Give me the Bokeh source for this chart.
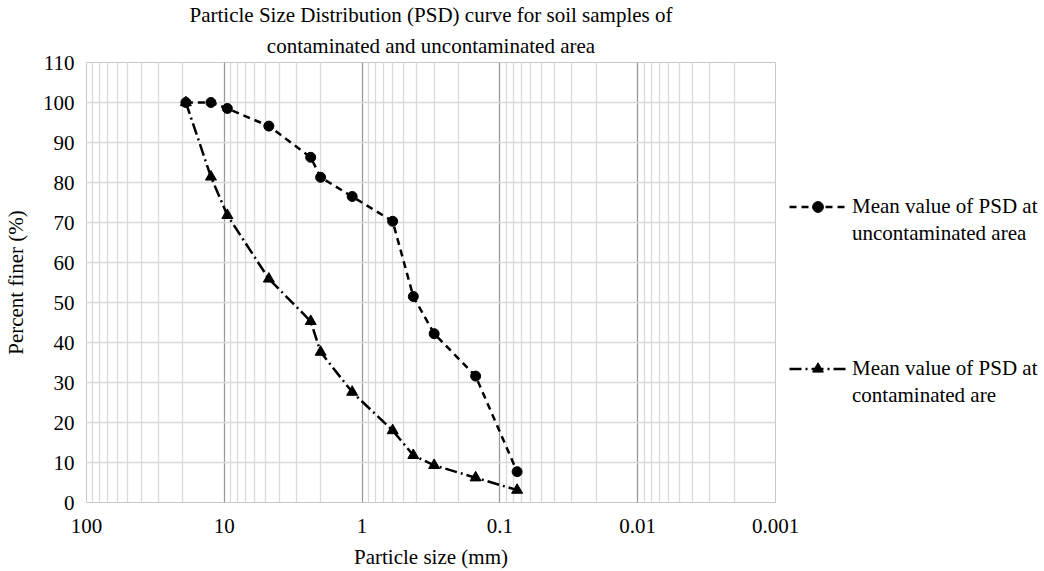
from bokeh.plotting import figure
from bokeh.models import (Range1d, FixedTicker, CustomJSTickFormatter, Legend, LegendItem, Title)
from bokeh.embed import file_html
from bokeh.resources import INLINE

# Data
sizes_mm = [19.0, 12.5, 9.5, 4.75, 2.36, 2.0, 1.18, 0.6, 0.425, 0.3, 0.15, 0.075]
uncontaminated = [100.0, 100.0, 98.5, 94.1, 86.3, 81.3, 76.5, 70.3, 51.5, 42.2, 31.6, 7.7]
contaminated = [100.0, 81.4, 71.8, 55.9, 45.3, 37.6, 27.6, 18.0, 11.8, 9.3, 6.2, 3.1]
x_major_ticks = [100, 10, 1, 0.1, 0.01, 0.001]
y_ticks = [0, 10, 20, 30, 40, 50, 60, 70, 80, 90, 100, 110]
label_unc = ["Mean value of PSD at", "uncontaminated area"]
label_con = ["Mean value of PSD at", "contaminated are"]

FONT = "Liberation Serif"
FS = "21px"

minor = []
for d in [0.001, 0.01, 0.1, 1, 10]:
    for k in range(2, 10):
        minor.append(round(k * d, 6))

p = figure(x_axis_type="log", x_range=Range1d(100, 0.001), y_range=Range1d(0, 110),
           frame_width=689, frame_height=440, title=None,
           output_backend="svg", toolbar_location=None,
           min_border_left=79, min_border_top=55, min_border_bottom=0, min_border_right=0)

p.add_layout(Title(text="contaminated and uncontaminated area", align="center",
                   text_font=FONT, text_font_size=FS, text_font_style="normal",
                   text_color="#000000", standoff=10, text_line_height=1.0), "above")
p.add_layout(Title(text="Particle Size Distribution (PSD) curve for soil samples of", align="center",
                   text_font=FONT, text_font_size=FS, text_font_style="normal",
                   text_color="#000000", standoff=0, text_line_height=1.0), "above")

xt = FixedTicker(ticks=x_major_ticks, minor_ticks=minor)
p.xaxis.ticker = xt
p.xgrid.ticker = xt
p.xaxis.formatter = CustomJSTickFormatter(
    code="return tick >= 1 ? Math.round(tick).toString() : Number(tick.toPrecision(1)).toString();")
yt = FixedTicker(ticks=y_ticks)
p.yaxis.ticker = yt
p.ygrid.ticker = yt

p.xgrid.grid_line_color = "#999999"
p.xgrid.minor_grid_line_color = "#d9d9d9"
p.ygrid.grid_line_color = "#d9d9d9"
p.xgrid.grid_line_width = 1.3
p.xgrid.minor_grid_line_width = 1.3
p.ygrid.grid_line_width = 1.3
p.outline_line_color = "#c8c8c8"

for ax in (p.xaxis[0], p.yaxis[0]):
    ax.axis_line_color = None
    ax.major_tick_line_color = None
    ax.minor_tick_line_color = None
    ax.major_label_text_font = FONT
    ax.major_label_text_font_size = FS
    ax.major_label_text_color = "#000000"
    ax.axis_label_text_font = FONT
    ax.axis_label_text_font_size = FS
    ax.axis_label_text_font_style = "normal"
    ax.axis_label_text_color = "#000000"

p.xaxis.axis_label = "Particle size (mm)"
p.yaxis.axis_label = "Percent finer (%)"
p.xaxis.major_label_standoff = 10
p.xaxis.axis_label_standoff = 9
p.yaxis.major_label_standoff = 6
p.yaxis.axis_label_standoff = 12

l1 = p.line(sizes_mm, uncontaminated, line_color="black", line_width=2.5, line_dash="7 5")
s1 = p.scatter(sizes_mm, uncontaminated, marker="circle", size=10, fill_color="black", line_color="black")
l2 = p.line(sizes_mm, contaminated, line_color="black", line_width=2.5, line_dash="12 4 2 4")
s2 = p.scatter(sizes_mm, contaminated, marker="triangle", size=11, fill_color="black", line_color="black")

# invisible renderer used for legend rows that only carry text
blank = p.line(x=[], y=[], line_alpha=0)

items = [LegendItem(label=label_unc[0], renderers=[l1, s1]),
         LegendItem(label=label_unc[1], renderers=[blank])]
for _ in range(4):
    items.append(LegendItem(label=" ", renderers=[blank]))
items += [LegendItem(label=label_con[0], renderers=[l2, s2]),
          LegendItem(label=label_con[1], renderers=[blank])]

legend = Legend(items=items, location=(14, 93), glyph_width=57, glyph_height=27,
                label_height=27, spacing=0,
                label_text_font=FONT, label_text_font_size=FS, label_text_color="#000000",
                border_line_color=None, background_fill_alpha=0, padding=0, margin=0,
                label_standoff=6)
p.add_layout(legend, "right")

open("out.html", "w").write(file_html(p, INLINE))
